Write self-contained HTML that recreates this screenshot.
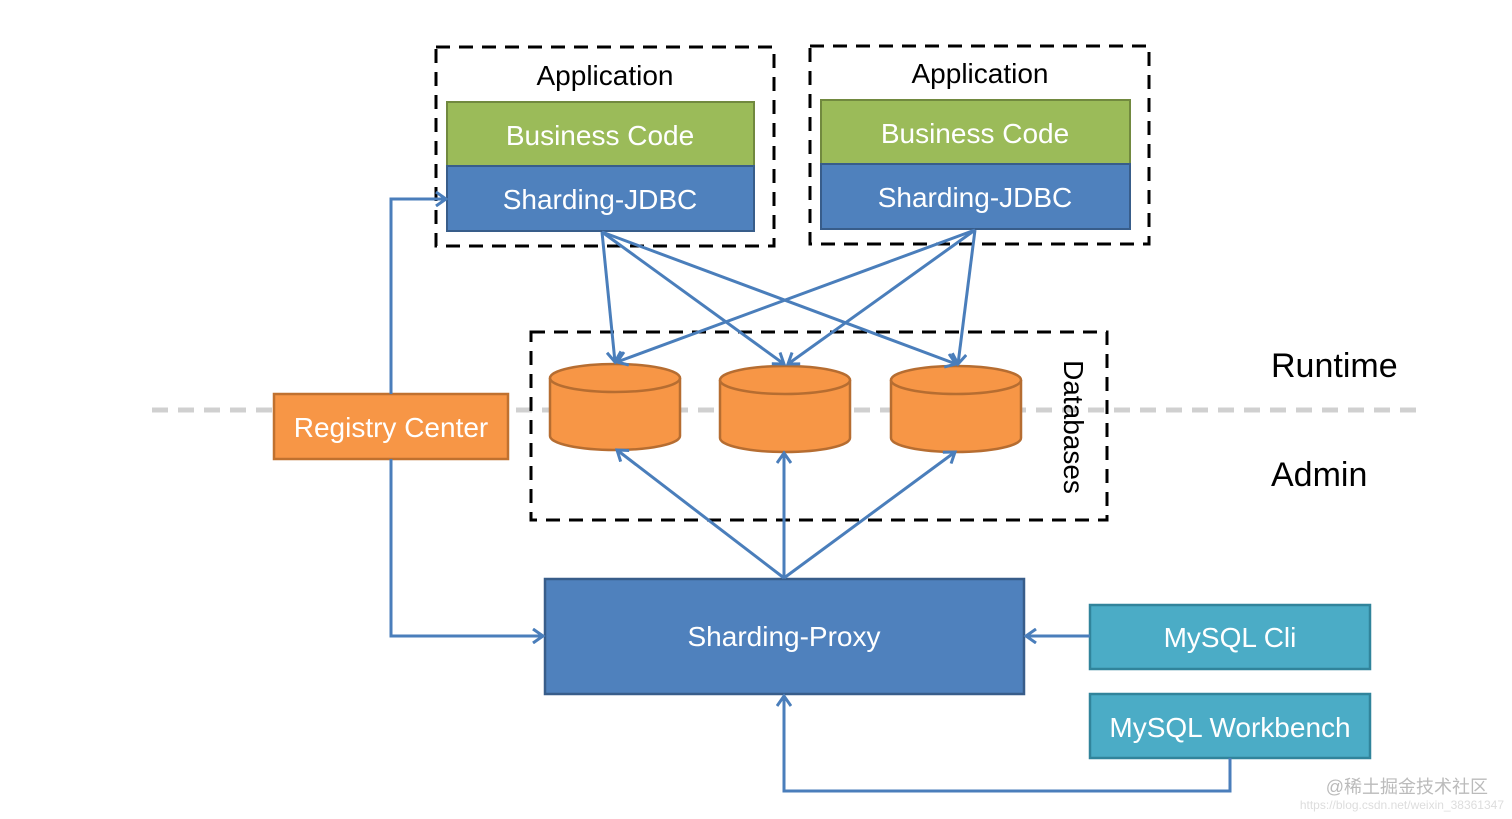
<!DOCTYPE html>
<html><head><meta charset="utf-8"><style>
html,body{margin:0;padding:0;background:#fff;}
svg{display:block;}
text{font-family:"Liberation Sans",sans-serif;}
</style></head><body>
<svg width="1512" height="819" viewBox="0 0 1512 819" xmlns="http://www.w3.org/2000/svg">
<defs>
<marker id="a" markerWidth="16" markerHeight="16" refX="12" refY="8" orient="auto" markerUnits="userSpaceOnUse">
<polyline points="2,1 12,8 2,15" fill="none" stroke="#4a7ebb" stroke-width="3"/>
</marker>
</defs>
<line x1="152" y1="410" x2="1425" y2="410" stroke="#d0d0d0" stroke-width="5" stroke-dasharray="16,10"/>

<rect x="436" y="47" width="338" height="199" fill="none" stroke="#000" stroke-width="3" stroke-dasharray="14,9"/>
<text x="605" y="85" font-size="28" text-anchor="middle" fill="#000">Application</text>
<rect x="447" y="102" width="307" height="64" fill="#9bbb59" stroke="#71893f" stroke-width="2"/>
<text x="600" y="145" font-size="28" text-anchor="middle" fill="#fff">Business Code</text>
<rect x="447" y="166" width="307" height="65" fill="#4f81bd" stroke="#385d8a" stroke-width="2"/>
<text x="600" y="209" font-size="28" text-anchor="middle" fill="#fff">Sharding-JDBC</text>

<rect x="810" y="46" width="339" height="198" fill="none" stroke="#000" stroke-width="3" stroke-dasharray="14,9"/>
<text x="980" y="83" font-size="28" text-anchor="middle" fill="#000">Application</text>
<rect x="821" y="100" width="309" height="64" fill="#9bbb59" stroke="#71893f" stroke-width="2"/>
<text x="975" y="143" font-size="28" text-anchor="middle" fill="#fff">Business Code</text>
<rect x="821" y="164" width="309" height="65" fill="#4f81bd" stroke="#385d8a" stroke-width="2"/>
<text x="975" y="207" font-size="28" text-anchor="middle" fill="#fff">Sharding-JDBC</text>

<rect x="531" y="332" width="576" height="188" fill="none" stroke="#000" stroke-width="3" stroke-dasharray="14,9"/>
<text transform="translate(1064,427) rotate(90)" font-size="28" text-anchor="middle" fill="#000">Databases</text>

<g fill="#f79646" stroke="#b66d31" stroke-width="2.5">
<path d="M550,378 L550,436 A65,14 0 0 0 680,436 L680,378"/>
<ellipse cx="615" cy="378" rx="65" ry="14"/>
<path d="M720,380 L720,438 A65,14 0 0 0 850,438 L850,380"/>
<ellipse cx="785" cy="380" rx="65" ry="14"/>
<path d="M891,380 L891,438 A65,14 0 0 0 1021,438 L1021,380"/>
<ellipse cx="956" cy="380" rx="65" ry="14"/>
</g>

<rect x="274" y="394" width="234" height="65" fill="#f79646" stroke="#c0712f" stroke-width="2.5"/>
<text x="391" y="437" font-size="28" text-anchor="middle" fill="#fff">Registry Center</text>

<rect x="545" y="579" width="479" height="115" fill="#4f81bd" stroke="#385d8a" stroke-width="2.5"/>
<text x="784" y="646" font-size="28" text-anchor="middle" fill="#fff">Sharding-Proxy</text>

<rect x="1090" y="605" width="280" height="64" fill="#4bacc6" stroke="#31849b" stroke-width="2.5"/>
<text x="1230" y="647" font-size="28" text-anchor="middle" fill="#fff">MySQL Cli</text>
<rect x="1090" y="694" width="280" height="64" fill="#4bacc6" stroke="#31849b" stroke-width="2.5"/>
<text x="1230" y="737" font-size="28" text-anchor="middle" fill="#fff">MySQL Workbench</text>

<text x="1271" y="377" font-size="34" fill="#000">Runtime</text>
<text x="1271" y="486" font-size="34" fill="#000">Admin</text>

<g fill="none" stroke="#4a7ebb" stroke-width="3" marker-end="url(#a)">
<line x1="602" y1="232" x2="615" y2="362"/>
<line x1="602" y1="232" x2="784" y2="364"/>
<line x1="602" y1="232" x2="956" y2="364"/>
<line x1="975" y1="230" x2="617" y2="362"/>
<line x1="975" y1="230" x2="788" y2="364"/>
<line x1="975" y1="230" x2="958" y2="364"/>
<line x1="784" y1="578" x2="617" y2="450"/>
<line x1="784" y1="578" x2="784" y2="453"/>
<line x1="784" y1="578" x2="955" y2="452"/>
<polyline points="391,394 391,199 446,199"/>
<polyline points="391,459 391,636 543,636"/>
<line x1="1090" y1="636" x2="1026" y2="636"/>
<polyline points="1230,758 1230,791 784,791 784,696"/>
</g>

<text x="1488" y="793" font-size="18" text-anchor="end" fill="#bbb" font-family="Liberation Sans, Noto Sans CJK SC, sans-serif">@稀土掘金技术社区</text>
<text x="1504" y="809" font-size="12" text-anchor="end" fill="#ddd">https://blog.csdn.net/weixin_38361347</text>
</svg>
</body></html>
